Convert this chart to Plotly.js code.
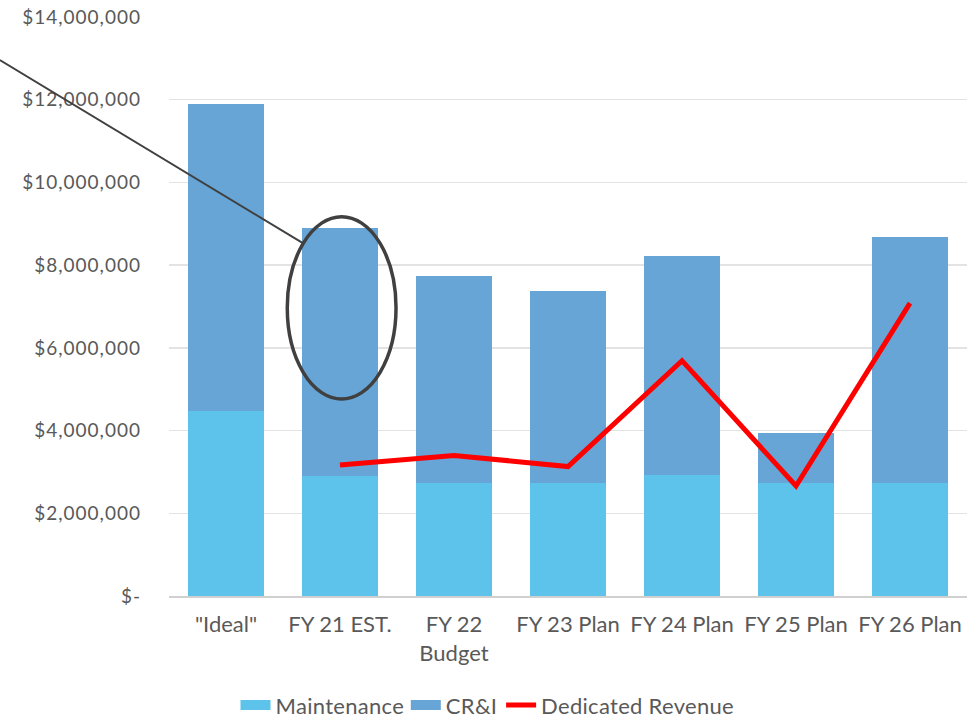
<!DOCTYPE html>
<html>
<head>
<meta charset="utf-8">
<script src="https://cdn.plot.ly/plotly-3.0.1.min.js"></script>
<style>
  html, body { margin: 0; padding: 0; background: #ffffff; }
  #chart { width: 970px; height: 721px; }
  #chart .ytick text { letter-spacing: 1px; }
  #chart .legendtext { letter-spacing: 0.3px; }
</style>
</head>
<body>
<div id="chart"></div>
<script>
// ---- Data ----
const categories = ['"Ideal"', 'FY 21 EST.', 'FY 22<br>Budget', 'FY 23 Plan', 'FY 24 Plan', 'FY 25 Plan', 'FY 26 Plan'];
const maintenance = [4470000, 2900000, 2730000, 2740000, 2920000, 2730000, 2740000];
const crAndI = [7430000, 6000000, 5010000, 4630000, 5310000, 1200000, 5930000];
const dedicatedRevenue = [null, 3170000, 3400000, 3130000, 5690000, 2660000, 7080000];
const yTickVals = [0, 2000000, 4000000, 6000000, 8000000, 10000000, 12000000, 14000000];
const yTickText = ['$-', '$2,000,000', '$4,000,000', '$6,000,000', '$8,000,000', '$10,000,000', '$12,000,000', '$14,000,000'];

const FONT = 'Lato, "Open Sans", "Noto Sans", sans-serif';
const TXT = '#595959';
const C_MAINT = '#5DC3EB';
const C_CRI = '#66A5D5';
const C_REV = '#FF0000';
const noValues = categories.map(() => null);

const traces = [
  {
    type: 'bar', name: 'Maintenance', x: categories, y: maintenance,
    marker: { color: C_MAINT }, showlegend: false, legendgroup: 'm'
  },
  {
    type: 'bar', name: 'CR&I', x: categories, y: crAndI,
    marker: { color: C_CRI }, showlegend: false, legendgroup: 'c'
  },
  {
    type: 'scatter', mode: 'lines', name: 'Dedicated Revenue', x: categories, y: dedicatedRevenue,
    line: { color: C_REV, width: 5 }, connectgaps: false, showlegend: false, legendgroup: 'r'
  },
  // legend swatches (no data of their own)
  { type: 'scatter', mode: 'lines', name: 'Maintenance', x: categories, y: noValues,
    line: { color: C_MAINT, width: 16 }, legendgroup: 'm', hoverinfo: 'skip' },
  { type: 'scatter', mode: 'lines', name: 'CR&I', x: categories, y: noValues,
    line: { color: C_CRI, width: 16 }, legendgroup: 'c', hoverinfo: 'skip' },
  { type: 'scatter', mode: 'lines', name: 'Dedicated Revenue', x: categories, y: noValues,
    line: { color: C_REV, width: 5 }, legendgroup: 'r', hoverinfo: 'skip' }
];

const layout = {
  width: 970, height: 721,
  margin: { l: 169, r: 3, t: 17, b: 125 },
  paper_bgcolor: '#ffffff', plot_bgcolor: '#ffffff',
  barmode: 'stack', bargap: 0.33,
  font: { family: FONT, color: TXT },
  showlegend: true,
  legend: {
    orientation: 'h', x: 0.5, xanchor: 'center', xref: 'container',
    y: 0.022, yanchor: 'middle', yref: 'container',
    font: { family: FONT, size: 22, color: TXT },
    itemwidth: 30, tracegroupgap: 28, traceorder: 'grouped'
  },
  xaxis: {
    type: 'category', showgrid: false, zeroline: false,
    showline: true, linecolor: '#D0D0D0', linewidth: 2,
    tickfont: { family: FONT, size: 22, color: TXT },
    ticks: '', ticklabelstandoff: 8, fixedrange: true
  },
  yaxis: {
    range: [0, 14000000], tickvals: yTickVals, ticktext: yTickText,
    showgrid: true, gridcolor: '#E3E3E3', gridwidth: 1.5,
    zeroline: false, showline: false,
    tickfont: { family: FONT, size: 19, color: TXT },
    ticks: '', ticklabelstandoff: 27, fixedrange: true
  },
  shapes: [
    {
      type: 'line', xref: 'paper', yref: 'paper',
      x0: -0.212, y0: 0.9257, x1: 0.1683, y1: 0.609,
      line: { color: '#404040', width: 2 }
    },
    {
      type: 'circle', xref: 'paper', yref: 'paper',
      x0: 0.1482, x1: 0.2845, y0: 0.3402, y1: 0.6551,
      line: { color: '#404040', width: 3.5 }, fillcolor: 'rgba(0,0,0,0)'
    }
  ]
};

Plotly.newPlot('chart', traces, layout, { displayModeBar: false, staticPlot: true });
</script>
</body>
</html>
